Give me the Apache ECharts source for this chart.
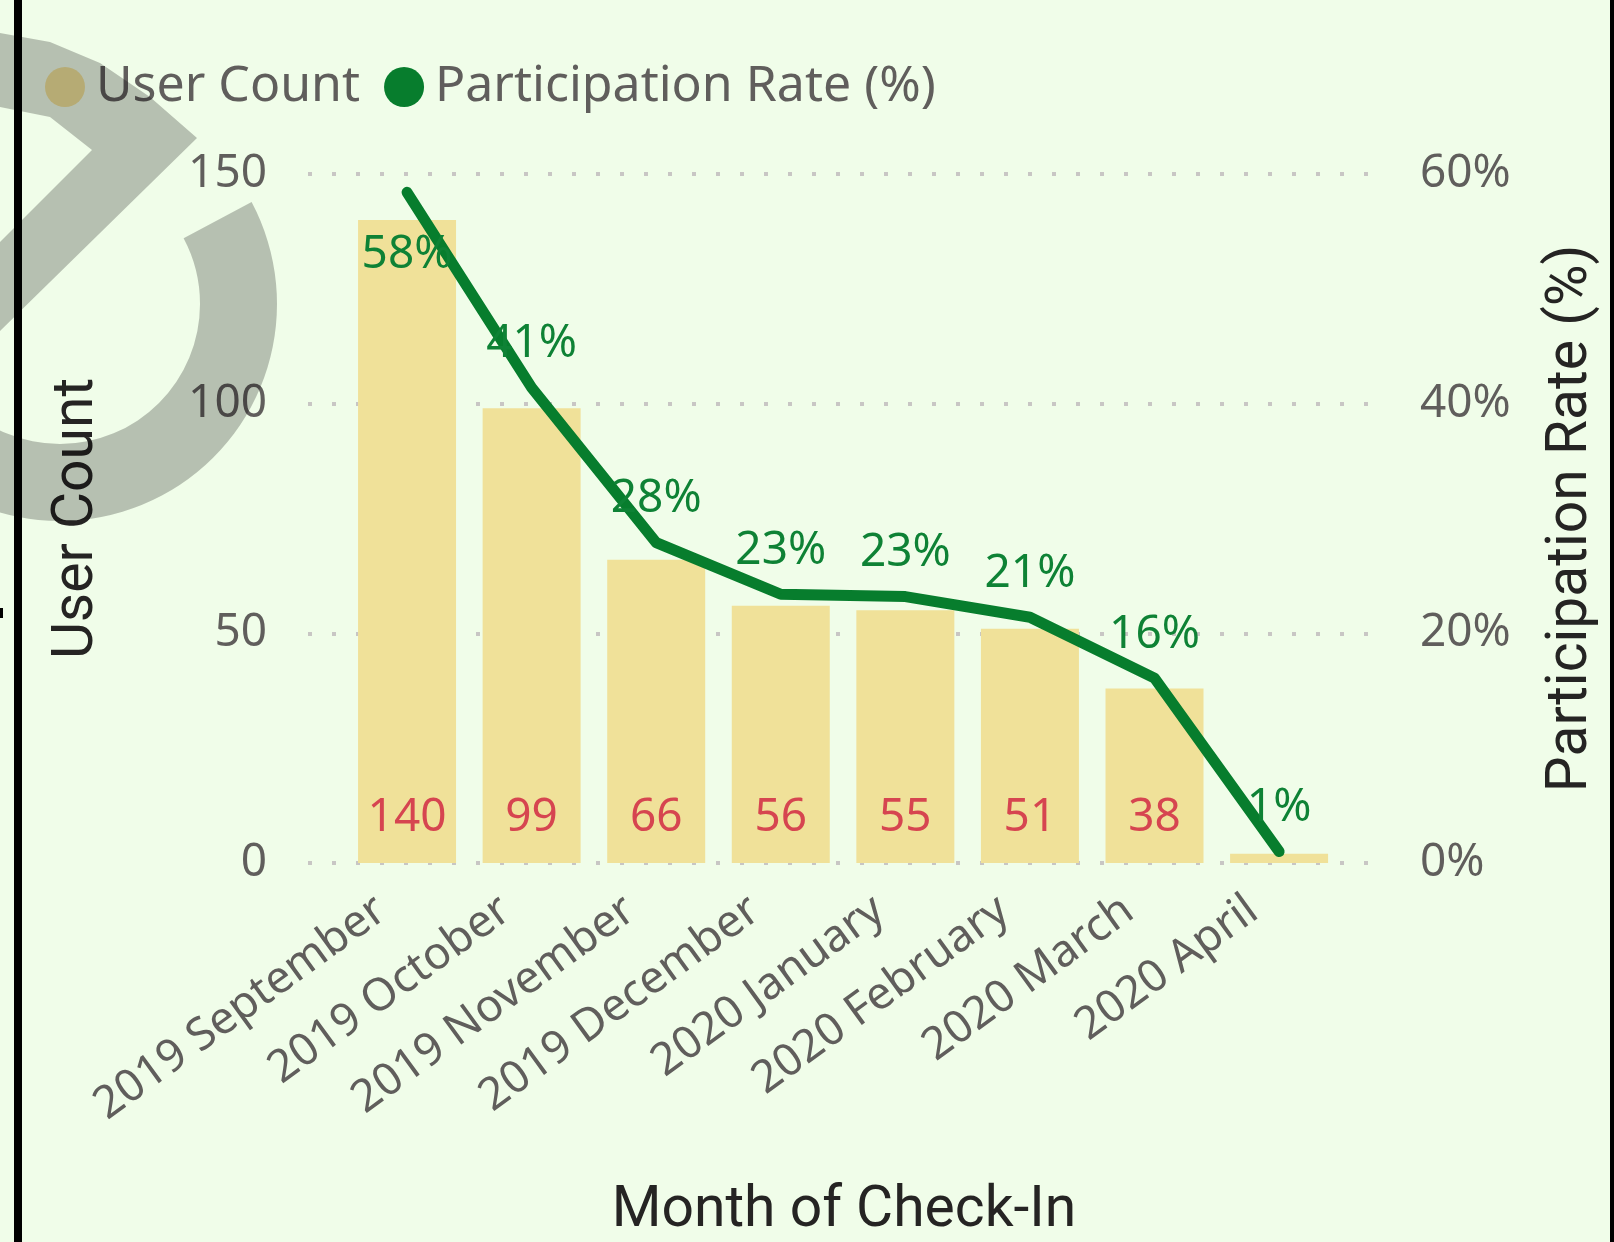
<!DOCTYPE html>
<html>
<head>
<meta charset="utf-8">
<title>User Count and Participation Rate</title>
<script src="https://cdn.jsdelivr.net/npm/echarts@6/dist/echarts.min.js"></script>
<style>
  html, body { margin: 0; padding: 0; background: #F0FDE9; }
  #main { width: 1614px; height: 1242px; }
</style>
</head>
<body>
<div id="main"></div>
<script>
  // months on the x axis
  const months = ['2019 September', '2019 October', '2019 November', '2019 December',
    '2020 January', '2020 February', '2020 March', '2020 April'];
  // bars: users per month
  const userCount = [140, 99, 66, 56, 55, 51, 38, 2];
  // line: participation rate in %
  const participationRate = [58.4, 41.4, 27.9, 23.4, 23.2, 21.4, 16.1, 1.0];
  const countTicks = [0, 50, 100, 150];
  const rateTicks = [0, 20, 40, 60];

  const chart = echarts.init(document.getElementById('main'));

  const tickFont = 'Noto Sans';
  const titleFont = 'Roboto';
  const shade = 'rgba(0,0,0,0.24)';

  chart.setOption({
    backgroundColor: '#F0FDE9',
    animation: false,
    legend: {
      left: 40,
      top: 57,
      icon: 'circle',
      itemWidth: 40,
      itemHeight: 40,
      itemGap: 24,
      textStyle: { fontFamily: tickFont, fontSize: 50, color: '#605E5C', padding: [0, 0, 0, 6] }
    },
    grid: { left: 308, right: 1614 - 1380, top: 174, bottom: 1242 - 863, outerBoundsMode: 'none' },
    xAxis: {
      type: 'value',
      min: -0.795,
      max: 7.81,
      splitNumber: 8,
      minInterval: 1,
      maxInterval: 1,
      axisLine: { show: false },
      axisTick: { show: false },
      splitLine: { show: false },
      axisLabel: {
        showMinLabel: false,
        showMaxLabel: false,
        rotate: 36,
        margin: 24,
        padding: [0, 32, 0, 0],
        fontFamily: tickFont,
        fontSize: 45,
        color: '#605E5C',
        formatter: function (v) {
          return Number.isInteger(v) && months[v] ? months[v] : '';
        }
      },
      name: 'Month of Check-In',
      nameLocation: 'middle',
      nameGap: 320,
      nameTextStyle: { fontFamily: titleFont, fontSize: 57, color: '#252423' }
    },
    yAxis: [
      {
        type: 'value',
        min: countTicks[0],
        max: countTicks[countTicks.length - 1],
        interval: countTicks[1] - countTicks[0],
        axisLine: { show: false },
        axisTick: { show: false },
        axisLabel: { margin: 41, fontFamily: tickFont, fontSize: 46, color: '#605E5C' },
        splitLine: { show: true, lineStyle: { color: '#C8C6C4', width: 4, type: [4, 20] } },
        name: 'User Count',
        nameLocation: 'middle',
        nameRotate: 90,
        nameGap: 202,
        nameTextStyle: { fontFamily: titleFont, fontSize: 57, color: '#252423' }
      },
      {
        type: 'value',
        min: rateTicks[0],
        max: rateTicks[rateTicks.length - 1],
        interval: rateTicks[1] - rateTicks[0],
        position: 'right',
        axisLine: { show: false },
        axisTick: { show: false },
        splitLine: { show: false },
        axisLabel: { margin: 40, fontFamily: tickFont, fontSize: 46, color: '#605E5C', formatter: '{value}%' },
        name: 'Participation Rate (%)',
        nameLocation: 'middle',
        nameRotate: 90,
        nameGap: 163,
        nameTextStyle: { fontFamily: titleFont, fontSize: 57, color: '#252423' }
      }
    ],
    series: [
      {
        name: 'User Count',
        type: 'bar',
        yAxisIndex: 0,
        barWidth: 98,
        itemStyle: { color: '#F0E199' },
        label: {
          show: true,
          position: 'insideBottom',
          distance: 22,
          fontFamily: tickFont,
          fontSize: 46,
          color: '#D64550',
          formatter: function (p) { return p.value[1] >= 10 ? p.value[1] : ''; }
        },
        data: userCount.map(function (v, i) { return [i, v]; })
      },
      {
        name: 'Participation Rate (%)',
        type: 'line',
        yAxisIndex: 1,
        showSymbol: true,
        symbol: 'circle',
        symbolSize: 1,
        itemStyle: { color: '#077D2D' },
        lineStyle: { color: '#077D2D', width: 11, cap: 'round', join: 'round' },
        label: {
          show: true,
          position: 'top',
          distance: 20,
          fontFamily: tickFont,
          fontSize: 46,
          color: '#0E8235',
          formatter: function (p) { return Math.round(p.value[1]) + '%'; }
        },
        // first label sits under the point, like the reference
        labelLayout: function (p) { return p.dataIndex === 0 ? { dy: 106 } : {}; },
        z: 3,
        data: participationRate.map(function (v, i) { return [i, v]; })
      }
    ],
    graphic: [
      {
        type: 'sector',
        z: 100,
        silent: true,
        shape: { cx: 60, cy: 304, r0: 140, r: 217, startAngle: -28 * Math.PI / 180, endAngle: Math.PI, clockwise: true },
        style: { fill: shade }
      },
      {
        type: 'polygon',
        z: 100,
        silent: true,
        shape: {
          points: [[0, 33], [50, 42], [100, 63], [150, 97], [197, 138], [0, 331],
            [0, 242], [92, 150], [50, 117], [0, 107]]
        },
        style: { fill: shade }
      },
      { type: 'rect', z: 101, silent: true, shape: { x: 14, y: 0, width: 8, height: 1242 }, style: { fill: '#000' } },
      { type: 'rect', z: 101, silent: true, shape: { x: 1610, y: 0, width: 4, height: 1242 }, style: { fill: '#000' } },
      { type: 'rect', z: 101, silent: true, shape: { x: 0, y: 608, width: 3, height: 10 }, style: { fill: '#000' } }
    ]
  });
</script>
</body>
</html>
